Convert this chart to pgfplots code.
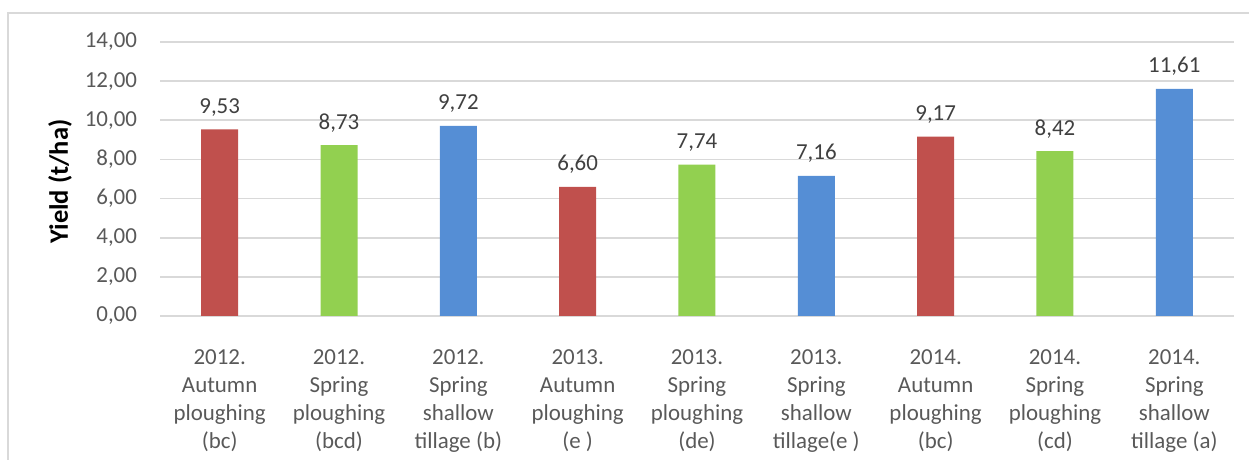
\documentclass[border=0pt]{standalone}
\usepackage{pgfplots}
\pgfplotsset{compat=1.18}
\usepackage{fontspec}
\setmainfont{Carlito}
\definecolor{barred}{HTML}{C0504D}
\definecolor{bargreen}{HTML}{92D050}
\definecolor{barblue}{HTML}{558ED5}
\definecolor{gridgray}{HTML}{D9D9D9}
\definecolor{ticktext}{HTML}{595959}
\definecolor{valtext}{HTML}{404040}
\begin{document}
\begin{tikzpicture}
\useasboundingbox (0,0) rectangle (624.5bp,230bp);
% light chart frame (only top and left edges visible)
\draw[gridgray, line width=0.8bp] (4bp,0) -- (4bp,223.5bp) -- (624.5bp,223.5bp);
\begin{axis}[
    at={(80bp,72bp)}, anchor=south west,
    scale only axis,
    width=537bp, height=137bp,
    ybar, bar width=18.5bp,
    xmin=-0.5, xmax=8.5,
    ymin=0, ymax=14,
    ytick={0,2,...,14},
    xtick={0,...,8},
    xticklabels={
        {2012.\\Autumn\\ploughing\\(bc)},
        {2012.\\Spring\\ploughing\\(bcd)},
        {2012.\\Spring\\shallow\\tillage (b)},
        {2013.\\Autumn\\ploughing\\(e )},
        {2013.\\Spring\\ploughing\\(de)},
        {2013.\\Spring\\shallow\\tillage(e )},
        {2014.\\Autumn\\ploughing\\(bc)},
        {2014.\\Spring\\ploughing\\(cd)},
        {2014.\\Spring\\shallow\\tillage (a)}},
    axis y line*=left,
    y axis line style={draw=none},
    axis x line*=bottom,
    x axis line style={gridgray, line width=0.8bp, -},
    ymajorgrids, grid style={gridgray, line width=0.8bp},
    major tick length=0pt,
    tick style={draw=none},
    /pgf/number format/assume math mode=true,
    yticklabel style={/pgf/number format/.cd, fixed, fixed zerofill, precision=2, use comma,
        /tikz/.cd, font=\fontsize{11.5}{13}\selectfont, text=ticktext, xshift=-8bp},
    xticklabel style={align=center, font=\fontsize{11.5}{14}\selectfont, text=ticktext, yshift=-13.5bp},
    ylabel={\textbf{Yield (t/ha)}},
    ylabel style={at={(axis description cs:-0.093,0.49)}, anchor=center, font=\fontsize{13.3}{15}\selectfont},
    nodes near coords,
    nodes near coords style={/pgf/number format/.cd, fixed, fixed zerofill, precision=2, use comma,
        /tikz/.cd, font=\fontsize{11.5}{13}\selectfont, text=valtext, yshift=3bp},
    every axis plot/.append style={draw=none, bar shift=0pt},
]
\addplot[fill=barred] coordinates {(0,9.53) (3,6.60) (6,9.17)};
\addplot[fill=bargreen] coordinates {(1,8.73) (4,7.74) (7,8.42)};
\addplot[fill=barblue] coordinates {(2,9.72) (5,7.16) (8,11.61)};
\end{axis}
\end{tikzpicture}
\end{document}
